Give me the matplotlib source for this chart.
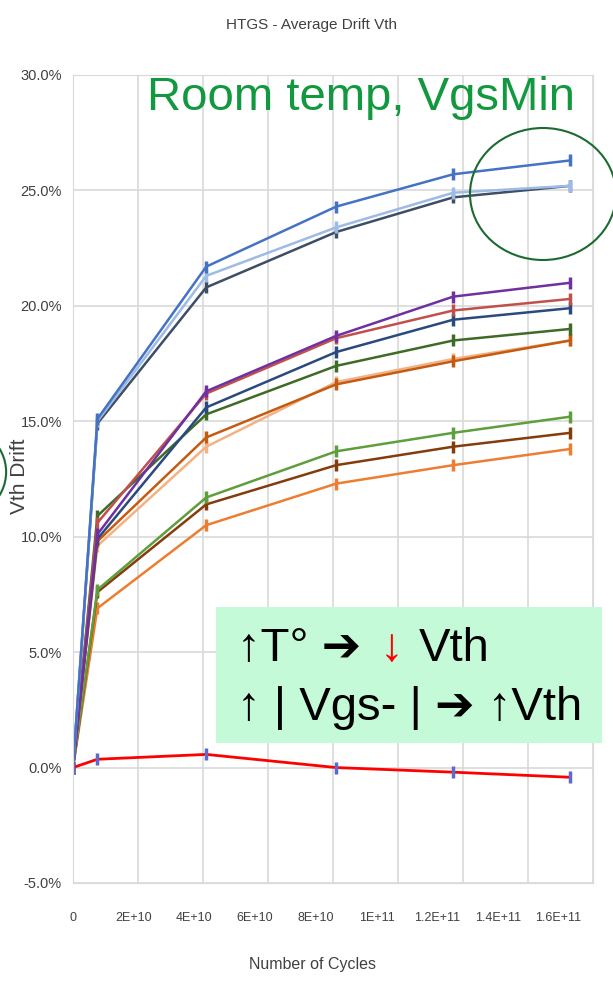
import matplotlib
matplotlib.use('Agg')
import matplotlib.pyplot as plt
from matplotlib.patches import Ellipse, Rectangle
from matplotlib.transforms import ScaledTranslation

# cycles where every series was measured
cycles = [0, 7.5e9, 4.1e10, 8.1e10, 1.17e11, 1.53e11]

# Vth drift (%) per series, top to bottom
blue = [0, 15.1, 21.7, 24.3, 25.7, 26.3]
light_blue = [0, 15.0, 21.3, 23.4, 24.9, 25.2]
slate = [0, 14.9, 20.8, 23.2, 24.7, 25.2]
purple = [0, 10.1, 16.3, 18.7, 20.4, 21.0]
crimson = [0, 10.6, 16.2, 18.6, 19.8, 20.3]
navy = [0, 9.9, 15.6, 18.0, 19.4, 19.9]
dark_green = [0, 10.9, 15.3, 17.4, 18.5, 19.0]
orange = [0, 9.8, 14.3, 16.6, 17.6, 18.5]
peach = [0, 9.6, 13.9, 16.7, 17.7, 18.5]
green = [0, 7.7, 11.7, 13.7, 14.5, 15.2]
brown = [0, 7.6, 11.4, 13.1, 13.9, 14.5]
light_orange = [0, 6.9, 10.5, 12.3, 13.1, 13.8]
red = [0, 0.36, 0.57, 0.0, -0.2, -0.42]

x_ticks = [0, 2e10, 4e10, 6e10, 8e10, 1e11, 1.2e11, 1.4e11, 1.6e11]
x_labels = ['0', '2E+10', '4E+10', '6E+10', '8E+10', '1E+11', '1.2E+11', '1.4E+11', '1.6E+11']
y_ticks = [-5, 0, 5, 10, 15, 20, 25, 30]
y_labels = ['-5.0%', '0.0%', '5.0%', '10.0%', '15.0%', '20.0%', '25.0%', '30.0%']

fam = ['Liberation Sans', 'DejaVu Sans']

fig = plt.figure(figsize=(6.13, 9.84), dpi=100)
ax = fig.add_axes([73/613, 1-883/984, 520/613, 808/984])

series = [
    (light_orange, '#ED7D31'), (brown, '#843C0C'), (green, '#5E9E3C'),
    (peach, '#F4B183'), (orange, '#C55A11'), (dark_green, '#3F6B26'),
    (navy, '#2A4A7F'), (crimson, '#C0504D'), (purple, '#7030A0'),
    (slate, '#3E4E64'), (light_blue, '#9DBBE6'), (blue, '#4472C4'),
]
for vals, col in series:
    ax.plot(cycles, vals, color=col, lw=1.8, marker='|', ms=9, mew=2.5)
ax.plot(cycles, red, color='#FF0000', lw=2, marker='|', ms=8, mew=2.5, mec='#5B6ACD')

ax.set_xlim(0, 1.6e11)
ax.set_ylim(-5, 30)
ax.set_xticks(x_ticks)
ax.set_xticklabels([])
# labels in the source sit a little left of their gridlines, more so to the right
xt = ax.get_xaxis_transform()
for i, (v, lab) in enumerate(zip(x_ticks, x_labels)):
    off = ScaledTranslation(-4.3 * i / 100, 0, fig.dpi_scale_trans)
    ax.text(v, -0.043, lab, transform=xt + off, ha='center', va='center',
            family=fam, fontsize=9, color='#404040')
ax.set_yticks(y_ticks)
ax.set_yticklabels(y_labels, family=fam, fontsize=10.5, color='#404040')
ax.tick_params(length=0)
ax.tick_params(axis='y', pad=8)
ax.grid(True, color='#D9D9D9', lw=1.2)
ax.set_axisbelow(True)
for s in ax.spines.values():
    s.set_color('#D9D9D9')

ax.set_xlabel('Number of Cycles', family=fam, fontsize=11.5, color='#404040')
ax.xaxis.set_label_coords(0.46, -0.092)
ax.set_ylabel('Vth Drift', family=fam, fontsize=15, color='#404040')
ax.yaxis.set_label_coords(-0.085, 0.504)

fig.text(312/613, 1-25/984, 'HTGS - Average Drift Vth', ha='center', va='center',
         family=fam, fontsize=11, color='#404040')

# overlays
fig.text(147/613, 1-110/984, 'Room temp, VgsMin', family=fam, fontsize=34,
         color='#12993F', va='baseline')
fig.patches.append(Ellipse((543/613, 1-194/984), 146/613, 132/984, transform=fig.transFigure,
                           fill=False, ec='#1B6B30', lw=1.5))
fig.patches.append(Ellipse((-0.08, 1-472/984), 0.18, 0.1, transform=fig.transFigure,
                           fill=False, ec='#1B6B30', lw=1.5))
fig.patches.append(Rectangle((216/613, 1-743/984), 386/613, 136/984, transform=fig.transFigure,
                             fc='#C5FAD8', ec='none', zorder=5))

fs = 34
y1 = 1-661/984
y2 = 1-720/984
x0 = 237/613
t1 = fig.text(x0, y1, '↑T° ➔', family=fam, fontsize=fs, color='k', va='baseline', zorder=6)
fig.canvas.draw()
r = fig.canvas.get_renderer()
inv = fig.transFigure.inverted()
bb = t1.get_window_extent(r)
t2 = fig.text(inv.transform((bb.x1 + 18, 0))[0], y1, '↓', family=fam, fontsize=fs,
              color='#FF0000', va='baseline', zorder=6)
bb = t2.get_window_extent(r)
fig.text(inv.transform((bb.x1 + 16, 0))[0], y1, 'Vth', family=fam, fontsize=fs,
         color='k', va='baseline', zorder=6)
fig.text(x0, y2, '↑ | Vgs- | ➔ ↑Vth', family=fam, fontsize=fs, color='k',
         va='baseline', zorder=6)

fig.savefig('out.png', dpi=100)
